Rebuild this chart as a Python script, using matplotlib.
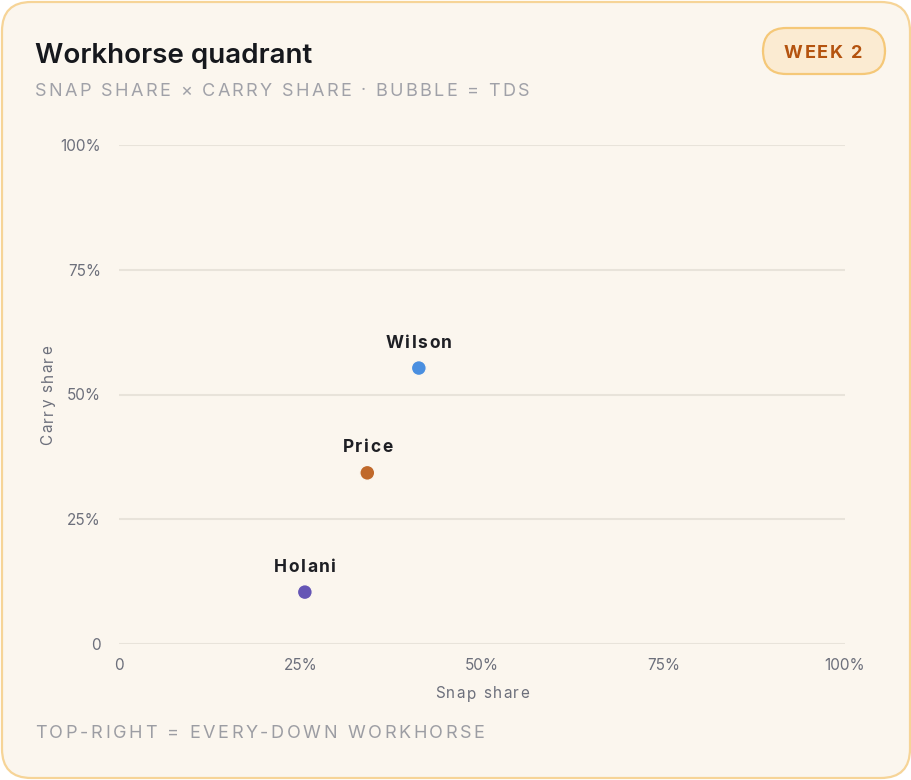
import matplotlib
matplotlib.use("Agg")
import matplotlib.pyplot as plt
from matplotlib.patches import FancyBboxPatch
from matplotlib.ticker import FixedLocator, FixedFormatter
from matplotlib.text import Text

players = ["Wilson", "Price", "Holani"]
snap_share = [0.413, 0.342, 0.256]
carry_share = [0.553, 0.343, 0.104]
tds = [0, 0, 0]
colors = ["#4A8FE0", "#C0692B", "#6555B5"]
tick_vals = [0, 0.25, 0.5, 0.75, 1.0]
tick_labels = ["0", "25%", "50%", "75%", "100%"]

W, H = 912, 780
fig = plt.figure(figsize=(W / 100, H / 100), dpi=100)
fig.patch.set_facecolor("white")
renderer = fig.canvas.get_renderer()

FONT = ["Inter", "DejaVu Sans"]


def text_width(s, **kw):
    t = Text(0, 0, s, **kw)
    t.set_figure(fig)
    return t.get_window_extent(renderer).width


def prefix_width(s, i, **kw):
    if i == 0:
        return 0.0
    return text_width(s[:i] + "x", **kw) - text_width("x", **kw)


def spaced_text(x, y, s, spacing, ha="left", rotation=0, **kw):
    """Draw text with letter spacing; (x, y) in pixels from top-left.
    For rotation=90, text runs upward and (x, y) is the centre."""
    total = text_width(s, **kw) + spacing * (len(s) - 1)
    start = -total / 2 if ha == "center" else 0.0
    for i, ch in enumerate(s):
        if ch == " ":
            continue
        off = start + prefix_width(s, i, **kw) + spacing * i
        if rotation == 90:
            fig.text(x / W, 1 - (y - off) / H, ch, ha="left", va="center",
                     rotation=90, rotation_mode="anchor", **kw)
        else:
            fig.text((x + off) / W, 1 - y / H, ch, ha="left", va="center", **kw)


card = FancyBboxPatch((2 / W, 2 / H), (W - 4) / W, (H - 4) / H,
                      boxstyle="round,pad=0,rounding_size=0.032",
                      transform=fig.transFigure, facecolor="#FBF6EE",
                      edgecolor="#F6D497", linewidth=1.6, mutation_aspect=W / H,
                      zorder=-10)
fig.patches.append(card)

fig.text(35 / W, 1 - 56 / H, "Workhorse quadrant", fontsize=20, fontweight="semibold",
         color="#16181d", family=FONT, va="center", ha="left")
spaced_text(35, 91, "SNAP SHARE × CARRY SHARE · BUBBLE = TDS", 2.3,
            fontsize=13, color="#A0A1A8", family=FONT)
spaced_text(35, 733, "TOP-RIGHT = EVERY-DOWN WORKHORSE", 2.6,
            fontsize=13, color="#9C9DA3", family=FONT)

badge = FancyBboxPatch((763 / W, 1 - 74 / H), 122 / W, 46 / H,
                       boxstyle="round,pad=0,rounding_size=0.0255",
                       transform=fig.transFigure, facecolor="#FBEBD2",
                       edgecolor="#F5C878", linewidth=1.6, mutation_aspect=W / H,
                       zorder=-5)
fig.patches.append(badge)
spaced_text(823, 53, "WEEK 2", 1.8, ha="center", fontsize=13, fontweight="bold",
            color="#B4530F", family=FONT)

ax = fig.add_axes([119 / W, 1 - 644 / H, (845 - 119) / W, (644 - 145) / H])
ax.set_facecolor("none")
ax.set_xlim(0, 1)
ax.set_ylim(0, 1)
for s in ax.spines.values():
    s.set_visible(False)
ax.xaxis.set_major_locator(FixedLocator(tick_vals))
ax.xaxis.set_major_formatter(FixedFormatter(tick_labels))
ax.yaxis.set_major_locator(FixedLocator(tick_vals))
ax.yaxis.set_major_formatter(FixedFormatter(tick_labels))
ax.tick_params(length=0, labelsize=11, labelcolor="#6C6F7B")
ax.tick_params(axis="x", pad=10)
ax.tick_params(axis="y", pad=13)
for lab in ax.get_xticklabels() + ax.get_yticklabels():
    lab.set_family(FONT)
ax.yaxis.grid(True, color="#E8E3DA", linewidth=1.5)
ax.xaxis.grid(False)
ax.set_axisbelow(True)

sizes = [115 + 40 * t for t in tds]
ax.scatter(snap_share, carry_share, s=sizes, c=colors, edgecolors="#FBF6EE",
           linewidths=1.0, zorder=3, clip_on=False)
for x, y, name in zip(snap_share, carry_share, players):
    px, py = ax.transData.transform((x, y))
    spaced_text(px, H - py - 25, name, 1.6, ha="center", fontsize=12.5, fontweight="bold",
                color="#1E1F24", family=FONT)

spaced_text(482, 694, "Snap share", 1.5, ha="center", fontsize=11,
            color="#6C6F7B", family=FONT)
spaced_text(48, 395, "Carry share", 1.5, ha="center", rotation=90, fontsize=11,
            color="#6C6F7B", family=FONT)

fig.savefig("out.png", dpi=100, facecolor=fig.get_facecolor())
